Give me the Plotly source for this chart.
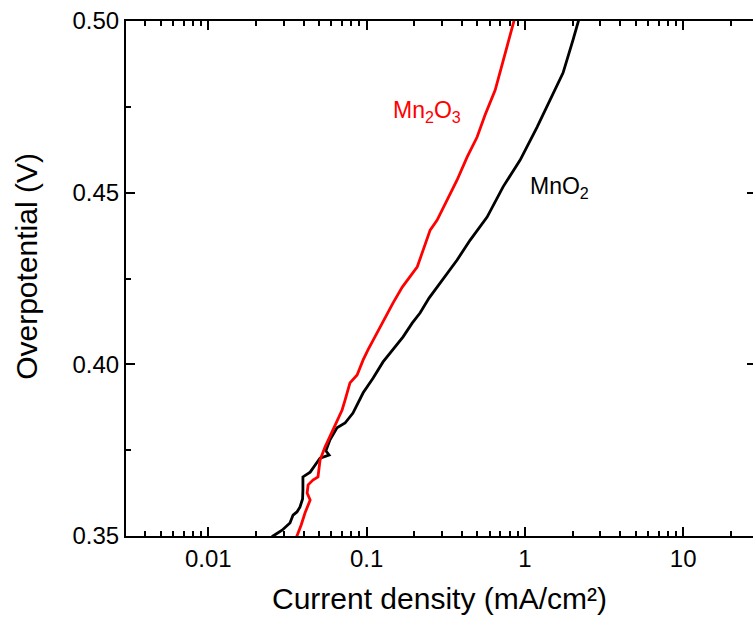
import plotly.graph_objects as go

# Tafel curves (current density mA/cm², overpotential V)
mn2o3_j = [0.0350, 0.0363, 0.0386, 0.0408, 0.0440, 0.0421, 0.0427, 0.0458, 0.0493,
           0.0508, 0.0546, 0.0614, 0.0659, 0.0700, 0.0731, 0.0785, 0.0871, 0.0951,
           0.102, 0.116, 0.131, 0.147, 0.168, 0.209, 0.252, 0.279, 0.373, 0.432,
           0.499, 0.560, 0.649, 0.728, 0.805, 0.853, 0.870]
mn2o3_v = [0.3488, 0.3500, 0.3532, 0.3567, 0.3605, 0.3625, 0.3649, 0.3663, 0.3672,
           0.3721, 0.3759, 0.3809, 0.3838, 0.3867, 0.3896, 0.3946, 0.3969, 0.4013,
           0.4042, 0.4091, 0.4135, 0.4179, 0.4225, 0.4284, 0.4391, 0.4420, 0.4537,
           0.4604, 0.4662, 0.4726, 0.4799, 0.4887, 0.4959, 0.5000, 0.5010]

mno2_j = [0.0238, 0.02566, 0.02924, 0.0328, 0.0343, 0.0363, 0.0379, 0.0394, 0.0396,
          0.0396, 0.0440, 0.0472, 0.0508, 0.0579, 0.0553, 0.0587, 0.0650, 0.0731,
          0.0820, 0.0951, 0.110, 0.127, 0.147, 0.170, 0.194, 0.218, 0.248, 0.373,
          0.451, 0.577, 0.728, 0.933, 1.194, 1.442, 1.742, 2.014, 2.167, 2.21]
mno2_v = [0.3488, 0.3500, 0.3517, 0.3538, 0.3561, 0.3570, 0.3584, 0.3608, 0.3634,
          0.3672, 0.3686, 0.3707, 0.3727, 0.3736, 0.3748, 0.3780, 0.3815, 0.3829,
          0.3858, 0.3917, 0.3960, 0.4007, 0.4042, 0.4080, 0.4120, 0.4150, 0.4193,
          0.4304, 0.4362, 0.4429, 0.4517, 0.4595, 0.4691, 0.4770, 0.4849, 0.4945,
          0.5000, 0.5010]

x_ticks = [0.01, 0.1, 1, 10]
x_labels = ["0.01", "0.1", "1", "10"]
x_minor = [k * 10 ** e for e in range(-3, 2) for k in range(2, 10)]
y_ticks = [0.35, 0.40, 0.45, 0.50]

FONT = "Liberation Sans, Arial, sans-serif"

fig = go.Figure()
fig.add_trace(go.Scatter(x=mno2_j, y=mno2_v, mode="lines",
                         line=dict(color="black", width=2.8), showlegend=False))
fig.add_trace(go.Scatter(x=mn2o3_j, y=mn2o3_v, mode="lines",
                         line=dict(color="#ff0000", width=2.8), showlegend=False))
# dummy trace so the right-hand tick axis is drawn
fig.add_trace(go.Scatter(x=[None], y=[None], yaxis="y2", showlegend=False))

fig.add_annotation(x=-0.846, y=0.4735, xref="x", yref="y", text="Mn<sub>2</sub>O<sub>3</sub>",
                   showarrow=False, xanchor="left", yanchor="middle",
                   font=dict(family=FONT, size=23, color="#ff0000"))
fig.add_annotation(x=0.0196, y=0.4514, xref="x", yref="y", text="MnO<sub>2</sub>",
                   showarrow=False, xanchor="left", yanchor="middle",
                   font=dict(family=FONT, size=23, color="black"))
# y title sits a bit above the plot centre in the original, so place it by hand
fig.add_annotation(x=-0.160, y=0.524, xref="paper", yref="paper", text="Overpotential (V)",
                   textangle=-90, showarrow=False, xanchor="center", yanchor="middle",
                   font=dict(family=FONT, size=30, color="black"))

fig.update_layout(
    width=753, height=617,
    margin=dict(l=126, r=0, t=21, b=81),
    plot_bgcolor="white", paper_bgcolor="white",
    font=dict(family=FONT, size=24, color="black"),
    xaxis=dict(
        type="log", range=[-2.520, 1.441], automargin=False,
        tickmode="array", tickvals=x_ticks, ticktext=x_labels,
        ticks="inside", ticklen=9, tickwidth=2, tickcolor="black",
        showline=True, linewidth=2, linecolor="black", mirror="ticks",
        showgrid=False, zeroline=False,
        minor=dict(tickmode="array", tickvals=x_minor, ticks="inside",
                   ticklen=5, tickwidth=2, tickcolor="black", showgrid=False),
        title=dict(text="Current density (mA/cm²)", font=dict(size=30), standoff=17),
        tickfont=dict(size=24),
    ),
    yaxis=dict(
        range=[0.35, 0.50], automargin=False,
        tickmode="array", tickvals=y_ticks, tickformat=".2f",
        ticks="inside", ticklen=9, tickwidth=2, tickcolor="black",
        showline=True, linewidth=2, linecolor="black",
        showgrid=False, zeroline=False,
        minor=dict(dtick=0.025, ticks="inside", ticklen=5, tickwidth=2,
                   tickcolor="black", showgrid=False),
        tickfont=dict(size=24),
    ),
    yaxis2=dict(
        overlaying="y", side="right", range=[0.35, 0.50], automargin=False,
        tickmode="array", tickvals=y_ticks, showticklabels=False,
        ticks="inside", ticklen=6, tickwidth=2, tickcolor="black",
        showline=False, showgrid=False, zeroline=False,
    ),
)

# drop the default page margin so the figure sits at the window origin
fig.write_html("out.html", config={"displayModeBar": False},
               post_script="document.body.style.margin='0';")
